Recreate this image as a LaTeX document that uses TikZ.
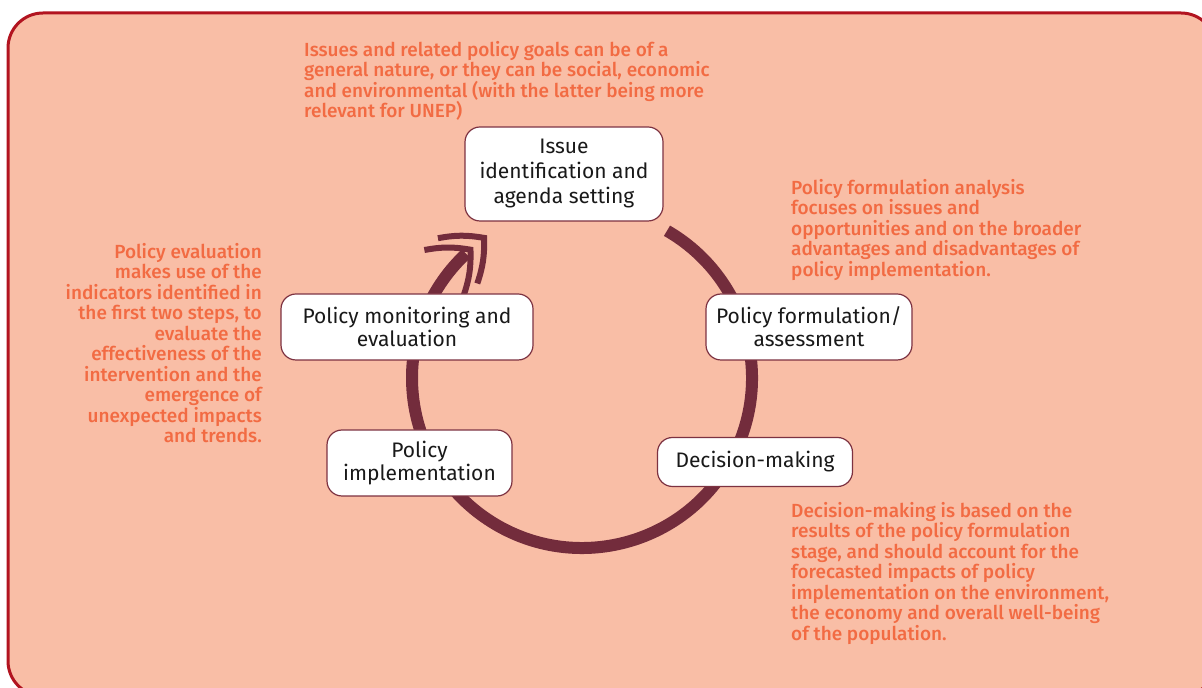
\documentclass[tikz,border=0pt]{standalone}
\usepackage{fontspec}
\setmainfont{Fira Sans}
\newfontfamily\notefont{Fira Sans}[UprightFont={* Medium}]
\usetikzlibrary{positioning,calc}
\definecolor{c1}{RGB}{249,190,166}
\definecolor{c2}{RGB}{178,20,32}
\definecolor{c3}{RGB}{115,44,60}
\definecolor{c4}{RGB}{242,107,67}
\definecolor{c5}{RGB}{125,50,65}

\begin{document}
\begin{tikzpicture}[x=1pt, y=1pt, line join=miter]
\tikzstyle{stage}=[draw=c5, line width=1.2pt, fill=white, rounded corners=15pt, inner sep=0pt, align=center, text=black!90, font=\fontsize{21}{23}\selectfont]
\tikzstyle{note}=[inner sep=0pt, text=c4, font=\notefont\fontsize{19}{20.5}\selectfont]
\tikzstyle{chev}=[draw=c3, line width=6pt]
\useasboundingbox (0,0) rectangle (1202,688);
\draw[c2, fill=c1, line width=3pt, rounded corners=35pt] (8,-8) rectangle (1216,675);

% the cycle
\coordinate (hub) at (582,310);
\draw[c3, line width=12pt] ($(hub)+(60:170)$) arc[start angle=60, end angle=-227, radius=170];
\coordinate (tip) at ($(hub)+(131:170)$);
\begin{scope}[shift={(tip)}, rotate=41]
\draw[chev] (-35,30) to[bend left=10] (0,0) to[bend left=10] (-35,-30);
\draw[chev] (-17,30) to[bend left=10] (18,0) to[bend left=10] (-17,-30);
\end{scope}

% stages
\node[stage, minimum width=198pt, minimum height=94pt, font=\fontsize{21}{25}\selectfont] (issue) at (564,514) {Issue\\identification and\\agenda setting};
\node[stage, minimum width=206pt, minimum height=66pt] (formul) at (809,361) {Policy formulation/\\assessment};
\node[stage, minimum width=195pt, minimum height=49pt] (decide) at (755,226) {Decision-making};
\node[stage, minimum width=185pt, minimum height=66pt] (impl) at (419.5,225) {Policy\\implementation};
\node[stage, minimum width=252pt, minimum height=66pt] (monitor) at (407,361) {Policy monitoring and\\evaluation};

% notes
\node[note, anchor=north west, align=left] (goalnote) at (304,647) {Issues and related policy goals can be of a\\general nature, or they can be social, economic\\and environmental (with the latter being more\\relevant for UNEP)};
\node[note, anchor=north west, align=left] (formnote) at (791,509) {Policy formulation analysis\\focuses on issues and\\opportunities and on the broader\\advantages and disadvantages of\\policy implementation.};
\node[note, anchor=north east, align=right] (evalnote) at (262,445) {Policy evaluation\\makes use of the\\indicators identified in\\the first two steps, to\\evaluate the\\effectiveness of the\\intervention and the\\emergence of\\unexpected impacts\\and trends.};
\node[note, anchor=north west, align=left] (decnote) at (791,186) {Decision-making is based on the\\results of the policy formulation\\stage, and should account for the\\forecasted impacts of policy\\implementation on the environment,\\the economy and overall well-being\\of the population.};
\end{tikzpicture}
\end{document}
